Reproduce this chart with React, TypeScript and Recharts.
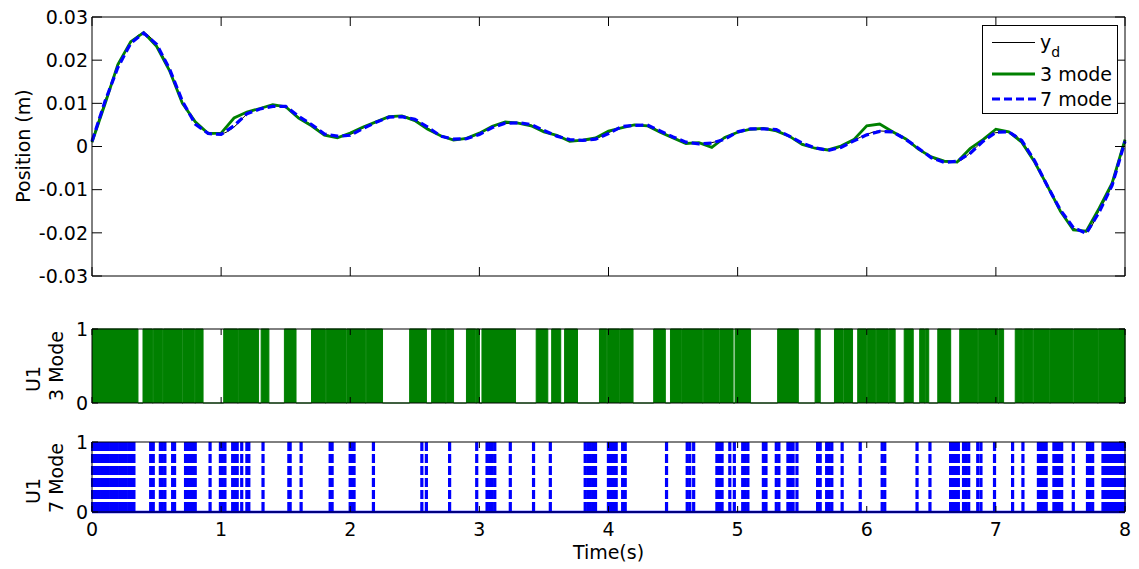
import React from "react";
import { ComposedChart, Line, Area, Bar, XAxis, YAxis, ReferenceLine } from "recharts";

const FONT = "'DejaVu Sans', 'Liberation Sans', sans-serif";

// sample grid of the position plot (s)
const time = [
  0, 0.1, 0.2, 0.3, 0.4, 0.5, 0.6, 0.7, 0.8, 0.9,
  1, 1.1, 1.2, 1.3, 1.4, 1.5, 1.6, 1.7, 1.8, 1.9,
  2, 2.1, 2.2, 2.3, 2.4, 2.5, 2.6, 2.7, 2.8, 2.9,
  3, 3.1, 3.2, 3.3, 3.4, 3.5, 3.6, 3.7, 3.8, 3.9,
  4, 4.1, 4.2, 4.3, 4.4, 4.5, 4.6, 4.7, 4.8, 4.9,
  5, 5.1, 5.2, 5.3, 5.4, 5.5, 5.6, 5.7, 5.8, 5.9,
  6, 6.1, 6.2, 6.3, 6.4, 6.5, 6.6, 6.7, 6.8, 6.9,
  7, 7.1, 7.2, 7.3, 7.4, 7.5, 7.6, 7.7, 7.8, 7.9, 8,
];

// desired position y_d (m)
const yd = [
  0.0014, 0.0105, 0.0185, 0.024, 0.0262, 0.0235, 0.0178, 0.0103, 0.0055, 0.0033,
  0.003, 0.0045, 0.0075, 0.0088, 0.0094, 0.009, 0.0068, 0.005, 0.003, 0.0023,
  0.0028, 0.0043, 0.0057, 0.0067, 0.007, 0.0062, 0.0043, 0.0024, 0.0017, 0.0019,
  0.003, 0.0045, 0.0053, 0.0054, 0.005, 0.0036, 0.0025, 0.0015, 0.0014, 0.0018,
  0.0032, 0.0044, 0.0049, 0.0049, 0.0035, 0.0021, 0.0009, 0.0007, 0.0009, 0.0019,
  0.0032, 0.004, 0.0041, 0.0037, 0.0023, 0.0007, -0.0004, -0.0008, -0.0001, 0.0014,
  0.0028, 0.0036, 0.0033, 0.0016, -0.0005, -0.0025, -0.0036, -0.0035, -0.0015, 0.0013,
  0.0032, 0.0033, 0.0012, -0.0035, -0.0093, -0.0148, -0.0189, -0.0198, -0.0148, -0.0088, 0.0015,
];

// 3 mode response
const mode3 = [
  0.001, 0.0098, 0.019, 0.0243, 0.0264, 0.0232, 0.0176, 0.01, 0.0057, 0.003,
  0.0031, 0.0066, 0.008, 0.0088, 0.0097, 0.0092, 0.0066, 0.0048, 0.0026, 0.002,
  0.0031, 0.0045, 0.0057, 0.0069, 0.0071, 0.006, 0.004, 0.0025, 0.0015, 0.0019,
  0.0031, 0.0047, 0.0057, 0.0054, 0.0048, 0.0034, 0.0026, 0.0012, 0.0015, 0.002,
  0.0036, 0.0043, 0.005, 0.0048, 0.0033, 0.002, 0.0007, 0.0009, -0.0002, 0.0021,
  0.0033, 0.004, 0.0042, 0.0036, 0.0024, 0.0005, -0.0004, -0.0008, 0.0001, 0.0016,
  0.0048, 0.0052, 0.0034, 0.0018, -0.0006, -0.0024, -0.0034, -0.0036, -0.0005, 0.0016,
  0.004, 0.0034, 0.001, -0.0036, -0.0092, -0.015, -0.0193, -0.0196, -0.0143, -0.0085, 0.0016,
];

// 7 mode response
const mode7 = [
  0.0012, 0.0104, 0.0183, 0.0239, 0.0263, 0.0237, 0.018, 0.0105, 0.0052, 0.003,
  0.0028, 0.0048, 0.0076, 0.0087, 0.0093, 0.0093, 0.007, 0.0051, 0.0029, 0.0024,
  0.0026, 0.0042, 0.0056, 0.0068, 0.0069, 0.0063, 0.0045, 0.0024, 0.0017, 0.0018,
  0.0028, 0.0044, 0.0054, 0.0055, 0.0051, 0.0037, 0.0024, 0.0016, 0.0014, 0.0017,
  0.003, 0.0046, 0.0049, 0.005, 0.0036, 0.0022, 0.001, 0.0006, 0.0008, 0.0017,
  0.0034, 0.0041, 0.0041, 0.0039, 0.0024, 0.0008, -0.0003, -0.0009, -0.0002, 0.0013,
  0.0027, 0.0035, 0.0034, 0.0017, -0.0004, -0.0026, -0.0037, -0.0034, -0.0016, 0.0012,
  0.0033, 0.0034, 0.0014, -0.0033, -0.0092, -0.0147, -0.0188, -0.0201, -0.0152, -0.009, 0.0012,
];

const xTicks = [0, 1, 2, 3, 4, 5, 6, 7, 8];
const posTicks = [-0.03, -0.02, -0.01, 0, 0.01, 0.02, 0.03];
const uTicks = [0, 1];

// U1, 3 mode: intervals where the switch chatters (start, end in s)
const greenBlocks: [number, number][] = [
  [0, 0.356],
  [0.395, 0.468], [0.474, 0.548], [0.554, 0.697], [0.703, 0.796], [0.802, 0.86],
  [1.02, 1.127], [1.133, 1.29],
  [1.31, 1.37],
  [1.49, 1.58],
  [1.7, 1.807], [1.813, 1.967], [1.973, 2.117], [2.123, 2.25],
  [2.46, 2.59],
  [2.63, 2.737], [2.743, 2.8],
  [2.9, 2.972], [2.978, 3.0],
  [3.02, 3.28],
  [3.44, 3.53],
  [3.56, 3.63],
  [3.66, 3.76],
  [3.93, 3.987], [3.993, 4.087], [4.093, 4.19],
  [4.35, 4.44],
  [4.48, 4.567], [4.573, 4.727], [4.733, 4.857], [4.863, 4.965],
  [4.98, 5.1],
  [5.31, 5.47],
  [5.6, 5.64],
  [5.75, 5.817], [5.823, 5.89],
  [5.93, 5.997], [6.003, 6.067], [6.073, 6.167], [6.173, 6.22],
  [6.29, 6.36],
  [6.41, 6.447], [6.453, 6.48],
  [6.55, 6.65],
  [6.72, 6.857], [6.863, 7.017], [7.023, 7.06],
  [7.15, 7.207], [7.213, 7.287], [7.293, 7.417], [7.423, 7.597], [7.603, 7.787], [7.793, 8.0],
];

// U1, 7 mode: switching instants (s)
const bluePulses = [
  0.005, 0.02, 0.04, 0.055, 0.075, 0.09, 0.11, 0.125, 0.145, 0.16, 0.18, 0.195, 0.215, 0.23,
  0.25, 0.265, 0.285, 0.295, 0.305, 0.315, 0.325,
  0.455, 0.475, 0.53, 0.545, 0.565, 0.625, 0.64, 0.725, 0.74, 0.755, 0.77, 0.785, 0.8,
  0.915, 0.995, 1.01, 1.03, 1.09, 1.105, 1.125, 1.16, 1.2, 1.215, 1.325, 1.525, 1.535, 1.62,
  1.845, 1.86, 2.0, 2.015, 2.03, 2.18,
  2.555, 2.59, 2.77, 2.98, 3.06, 3.08, 3.1, 3.12, 3.24, 3.42, 3.55,
  3.82, 3.84, 3.86, 3.88, 3.9,
  4.0, 4.02, 4.04, 4.06, 4.11, 4.13, 4.45, 4.61, 4.63, 4.66, 4.84, 4.86, 4.88, 4.94, 4.975,
  5.04, 5.06, 5.08, 5.2, 5.22, 5.3, 5.32, 5.39, 5.41, 5.43, 5.46, 5.62, 5.64, 5.69, 5.71, 5.73,
  5.81, 5.95, 6.12, 6.14, 6.39, 6.49,
  6.65, 6.665, 6.68, 6.695, 6.71, 6.75, 6.77, 6.79, 6.86, 6.885, 6.99, 7.13, 7.21,
  7.33, 7.35, 7.37, 7.39, 7.45, 7.47, 7.49, 7.51, 7.6, 7.71, 7.73, 7.75,
  7.83, 7.845, 7.86, 7.875, 7.89, 7.905, 7.92, 7.935, 7.95, 7.965, 7.98, 7.995,
];

const posData = time.map((t, i) => ({ t, yd: yd[i], m3: mode3[i], m7: mode7[i] }));
const u3Data = greenBlocks.flatMap(([a, b]) => [{ t: a, u: 1 }, { t: b, u: 0 }]);
const u7Data = bluePulses.map((t) => ({ t, u: 1 }));

const tickStyle = { fontSize: 19, fontFamily: FONT, fill: "#000" };
const NoLabel = () => <g />;

// a switching instant drawn as a dashed vertical stroke over the bar's extent
const PulseShape = (p: any) => {
  const cx = p.x + p.width / 2;
  return (
    <line x1={cx} x2={cx} y1={p.y} y2={p.y + p.height} stroke="#0000ff" strokeWidth={3.2} strokeDasharray="9 3" />
  );
};

function VLabel({ x, y, text }: { x: number; y: number; text: string }) {
  return (
    <div
      style={{
        position: "absolute",
        left: x,
        top: y,
        transform: "translate(-50%, -50%) rotate(-90deg)",
        whiteSpace: "nowrap",
        fontSize: 19,
        fontFamily: FONT,
        lineHeight: 1,
        color: "#000",
      }}
    >
      {text}
    </div>
  );
}

// four mirrored axes = the box with inward ticks, plus a left axis for labels
function boxAxes(yKey: string, yDomain: [number, number], yTicks: number[], xLen: number, yLen: number) {
  return [
    <XAxis key="b" xAxisId="b" dataKey="t" type="number" domain={[0, 8]} ticks={xTicks} mirror height={10} tick={NoLabel} tickSize={xLen} stroke="#000" />,
    <XAxis key="t" xAxisId="t" dataKey="t" type="number" orientation="top" domain={[0, 8]} ticks={xTicks} mirror height={10} tick={NoLabel} tickSize={xLen} stroke="#000" />,
    <YAxis key="l" yAxisId="l" dataKey={yKey} type="number" domain={yDomain} ticks={yTicks} mirror width={10} tick={NoLabel} tickSize={yLen} stroke="#000" />,
    <YAxis key="r" yAxisId="r" dataKey={yKey} type="number" orientation="right" domain={yDomain} ticks={yTicks} mirror width={10} tick={NoLabel} tickSize={yLen} stroke="#000" />,
    <YAxis key="lab" yAxisId="lab" dataKey={yKey} type="number" domain={yDomain} ticks={yTicks} width={92} tickSize={0} tickMargin={4} tickLine={false} axisLine={false} tick={tickStyle} stroke="#000" />,
  ];
}

export default function App() {
  return (
    <div style={{ position: "absolute", left: 0, top: 0, width: 1139, height: 569, background: "#fff", fontFamily: FONT }}>
      {/* Position */}
      <div style={{ position: "absolute", left: 0, top: 0 }}>
        <ComposedChart width={1139} height={290} data={posData} margin={{ top: 17, right: 14, bottom: 14, left: 0 }}>
          {boxAxes("yd", [-0.03, 0.03], posTicks, 9, 10)}
          <Line xAxisId="b" yAxisId="l" type="monotone" dataKey="yd" stroke="#000" strokeWidth={1} dot={false} isAnimationActive={false} />
          <Line xAxisId="b" yAxisId="l" type="linear" dataKey="m3" stroke="#008000" strokeWidth={2.8} dot={false} isAnimationActive={false} />
          <Line xAxisId="b" yAxisId="l" type="linear" dataKey="m7" stroke="#0000ff" strokeWidth={3.2} strokeDasharray="8 4" dot={false} isAnimationActive={false} />
        </ComposedChart>
      </div>

      {/* U1, 3 mode */}
      <div style={{ position: "absolute", left: 0, top: 300 }}>
        <ComposedChart width={1139} height={120} data={u3Data} margin={{ top: 29, right: 14, bottom: 17, left: 0 }}>
          <Area xAxisId="b" yAxisId="l" type="stepAfter" dataKey="u" stroke="#008000" strokeWidth={1} fill="#008000" fillOpacity={1} dot={false} activeDot={false} isAnimationActive={false} />
          {boxAxes("u", [0, 1], uTicks, 6, 6)}
        </ComposedChart>
      </div>

      {/* U1, 7 mode */}
      <div style={{ position: "absolute", left: 0, top: 420 }}>
        <ComposedChart width={1139} height={149} data={u7Data} margin={{ top: 22, right: 14, bottom: 13, left: 0 }}>
          <XAxis
            xAxisId="xlab"
            dataKey="t"
            type="number"
            domain={[0, 8]}
            ticks={xTicks}
            height={44}
            tickSize={0}
            tickMargin={11}
            tickLine={false}
            axisLine={false}
            tick={tickStyle}
            stroke="#000"
            label={{ value: "Time(s)", position: "insideBottom", offset: -2.5, fill: "#000", fontSize: 19, fontFamily: FONT }}
          />
          <ReferenceLine xAxisId="b" yAxisId="l" y={0} stroke="#0000ff" strokeWidth={2.5} />
          <Bar xAxisId="b" yAxisId="l" dataKey="u" barSize={4} shape={PulseShape} isAnimationActive={false} />
          {boxAxes("u", [0, 1], uTicks, 6, 6)}
        </ComposedChart>
      </div>

      <VLabel x={23} y={146} text="Position (m)" />
      <VLabel x={32.5} y={379} text="U1" />
      <VLabel x={55.5} y={366} text="3 Mode" />
      <VLabel x={32.5} y={491} text="U1" />
      <VLabel x={55.5} y={478} text="7 Mode" />

      {/* legend */}
      <div style={{ position: "absolute", left: 982, top: 25, width: 136, height: 89, boxSizing: "border-box", border: "1px solid #000", background: "#fff" }}>
        <svg width={134} height={87} style={{ position: "absolute", left: 0, top: 0 }}>
          <line x1={9} x2={52} y1={16.5} y2={16.5} stroke="#000" strokeWidth={1} />
          <text x={57} y={23} fontSize={19} fontFamily={FONT} fill="#000">
            y<tspan fontSize={14} dy={8}>d</tspan>
          </text>
          <line x1={9} x2={52} y1={48} y2={48} stroke="#008000" strokeWidth={2.8} />
          <text x={57} y={55} fontSize={19} fontFamily={FONT} fill="#000">3 mode</text>
          <line x1={9} x2={53} y1={73} y2={73} stroke="#0000ff" strokeWidth={3.2} strokeDasharray="8 4" />
          <text x={57} y={80} fontSize={19} fontFamily={FONT} fill="#000">7 mode</text>
        </svg>
      </div>
    </div>
  );
}
